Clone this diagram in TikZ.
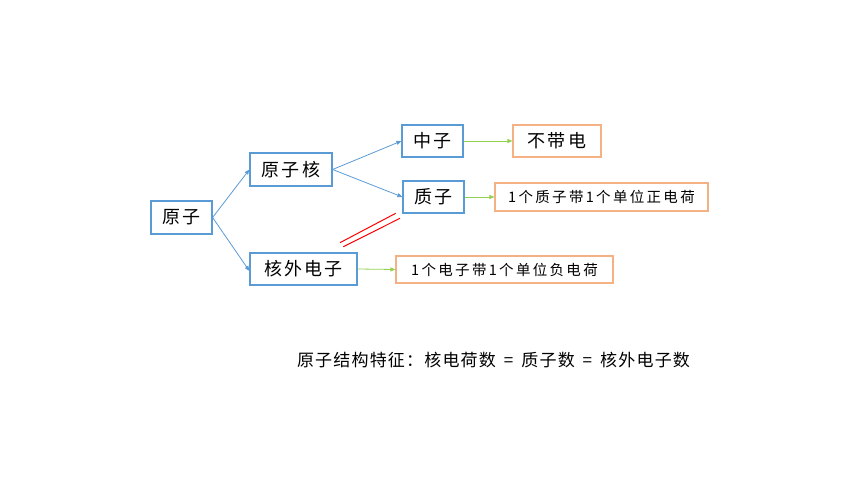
\documentclass[tikz,border=0pt]{standalone}
\usepackage{fontspec}
\newfontfamily\cjk{Noto Sans CJK SC}
\newfontfamily\cjksp[LetterSpace=12]{Noto Sans CJK SC}
\newfontfamily\cjksm[LetterSpace=16]{Noto Sans CJK SC}
\newfontfamily\cjkft[LetterSpace=7]{Noto Sans CJK SC}
\usetikzlibrary{arrows.meta}
\definecolor{boxblue}{HTML}{5B9BD5}
\definecolor{boxorange}{HTML}{F4B183}
\definecolor{arrgreen}{HTML}{92D050}
\tikzset{
  bluebox/.style={draw=boxblue, line width=1.2pt, inner sep=0pt, font=\cjksp\fontsize{18}{20}\selectfont, text=black},
  orangebox/.style={draw=boxorange, line width=1.2pt, inner sep=0pt, text=black},
  bluearr/.style={draw=boxblue, line width=0.8pt, -{Triangle[length=5pt,width=4pt]}},
  greenarr/.style={draw=arrgreen, line width=0.8pt, -{Triangle[length=5pt,width=4pt]}},
  redline/.style={draw=red, line width=1pt},
}
\begin{document}
\begin{tikzpicture}[x=1pt,y=-1pt]
\useasboundingbox (0,0) rectangle (860,484);
\node[bluebox, minimum width=61pt, minimum height=33pt] (yz) at (181.5,217.5) {原子};
\node[bluebox, minimum width=82pt, minimum height=33pt] (yzh) at (291,169.5) {原子核};
\node[bluebox, minimum width=107pt, minimum height=32pt] (hwdz) at (303.5,269) {核外电子};
\node[bluebox, minimum width=61pt, minimum height=32pt] (zhz) at (432.5,141) {中子};
\node[bluebox, minimum width=61pt, minimum height=32pt] (zz) at (433.5,197) {质子};
\node[orangebox, font=\cjksp\fontsize{18}{20}\selectfont, minimum width=88pt, minimum height=32pt] (bdd) at (557,141) {不带电};
\node[orangebox, font=\cjksm\fontsize{14.5}{16}\selectfont, minimum width=213pt, minimum height=28pt] (zdh) at (601.5,197) {1个质子带1个单位正电荷};
\node[orangebox, font=\cjksm\fontsize{14.5}{16}\selectfont, minimum width=217pt, minimum height=27pt] (fdh) at (504.5,269.5) {1个电子带1个单位负电荷};
\draw[bluearr] (yz.east) -- (yzh.west);
\draw[bluearr] (yz.east) -- ([yshift=-2pt]hwdz.west);
\draw[bluearr] (yzh.east) -- (zhz.west);
\draw[bluearr] (yzh.east) -- (zz.west);
\draw[greenarr] (zhz.east) -- (bdd.west);
\draw[greenarr] (zz.east) -- (zdh.west);
\draw[greenarr] (hwdz.east) -- (fdh.west);
\coordinate (r1a) at (340,242.7);
\coordinate (r1b) at (395.7,213.3);
\coordinate (r2a) at (343.3,246.7);
\coordinate (r2b) at (400,218.3);
\draw[redline] (r1a) -- (r1b);
\draw[redline] (r2a) -- (r2b);
\node[font=\cjkft\fontsize{17}{19}\selectfont, inner sep=0pt, text=black] (feat) at (493.5,360) {原子结构特征：核电荷数\hspace{8pt}=\hspace{8pt}质子数\hspace{8pt}=\hspace{8pt}核外电子数};
\end{tikzpicture}
\end{document}
